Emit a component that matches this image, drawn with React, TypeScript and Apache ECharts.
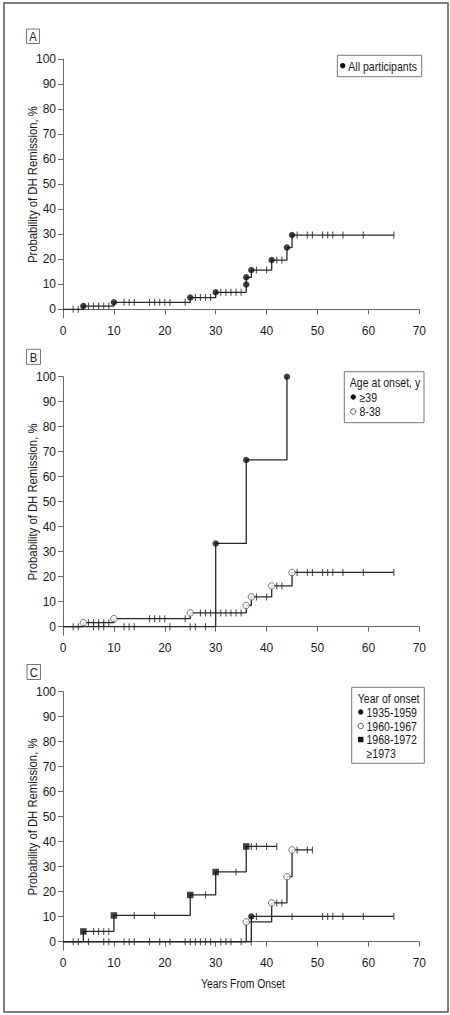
import React, { useEffect, useRef } from "react";
import * as echarts from "echarts";

// ---------- Data ----------
// Panel A: all participants
const allEventTimes = [4, 10, 25, 30, 36, 36, 37, 41, 44, 45];
const allEventProb = [1.3, 2.8, 4.7, 6.8, 9.9, 12.8, 15.7, 19.7, 24.7, 29.7];
const allCensorTimes = [2, 3, 5, 6, 7, 8, 9, 12, 13, 14, 17, 18, 19, 20, 21, 24, 26, 27, 28, 29, 31, 32, 33, 34, 35, 38, 40, 42, 43, 46, 48, 49, 51, 52, 53, 55, 59, 65];
const allEndTime = 65;

// Panel B: age at onset
const age39EventTimes = [30, 36, 44];
const age39EventProb = [33.3, 66.7, 100];
const age39CensorTimes = [2, 3, 6, 7, 8, 12, 13, 14, 21, 25, 26, 28];
const age39EndTime = 44;

const age838EventTimes = [4, 10, 25, 36, 37, 41, 45];
const age838EventProb = [1.6, 3.2, 5.5, 8.5, 11.9, 16.3, 21.7];
const age838CensorTimes = [5, 6, 7, 8, 9, 17, 18, 19, 20, 24, 27, 28, 29, 31, 32, 33, 34, 35, 38, 40, 42, 43, 46, 48, 49, 51, 52, 53, 55, 59, 65];
const age838EndTime = 65;

// Panel C: year of onset
const y1935EventTimes = [37];
const y1935EventProb = [10.1];
const y1935CensorTimes = [38, 45, 51, 52, 53, 55, 59, 65];
const y1935EndTime = 65;

const y1960EventTimes = [36, 41, 44, 45];
const y1960EventProb = [7.9, 15.5, 26.0, 36.7];
const y1960CensorTimes = [42, 43, 46, 48, 49];
const y1960EndTime = 49;

const y1968EventTimes = [4, 10, 25, 30, 36];
const y1968EventProb = [4.1, 10.5, 18.7, 27.9, 38.1];
const y1968CensorTimes = [6, 7, 8, 9, 14, 18, 28, 34, 37, 38, 40, 42];
const y1968EndTime = 42;

const y1973EventTimes: number[] = [];
const y1973EventProb: number[] = [];
const y1973CensorTimes = [2, 3, 5, 8, 9, 12, 13, 14, 17, 19, 21, 24, 25, 26, 27, 28, 29, 31, 32, 33, 35, 37];
const y1973EndTime = 37;

const xTicks = [0, 10, 20, 30, 40, 50, 60, 70];
const yTicks = [0, 10, 20, 30, 40, 50, 60, 70, 80, 90, 100];

const panelLetters = ["A", "B", "C"];
const yAxisTitle = "Probability of DH Remission, %";
const xAxisTitle = "Years From Onset";

// ---------- Styling ----------
const FONT = "'Liberation Sans', Arial, sans-serif";
const LINE = "#262626";
const AXIS = "#6a6a6a";
const TEXT = "#1a1a1a";

type Group = {
  times: number[];
  probs: number[];
  censor: number[];
  end: number;
  marker: "filled" | "open" | "square" | "none";
};

function stepValue(times: number[], probs: number[], t: number) {
  let v = 0;
  times.forEach((et, i) => {
    if (et <= t) v = probs[i];
  });
  return v;
}

function buildSeries(g: Group, idx: number) {
  const pts: number[][] = [[0, 0]];
  g.times.forEach((t, i) => pts.push([t, g.probs[i]]));
  pts.push([g.end, g.probs.length ? g.probs[g.probs.length - 1] : 0]);
  const out: any[] = [
    {
      type: "line",
      xAxisIndex: idx,
      yAxisIndex: idx,
      step: "end",
      data: pts,
      symbol: "none",
      lineStyle: { color: LINE, width: 1.3 },
      z: 2,
    },
    {
      type: "scatter",
      xAxisIndex: idx,
      yAxisIndex: idx,
      symbol: "rect",
      symbolSize: [1.1, 7],
      itemStyle: { color: LINE },
      data: g.censor.map((t) => [t, stepValue(g.times, g.probs, t)]),
      z: 3,
    },
  ];
  if (g.marker !== "none") {
    const itemStyle =
      g.marker === "open"
        ? { color: "#ffffff", borderColor: "#555", borderWidth: 1 }
        : { color: "#111" };
    out.push({
      type: "scatter",
      xAxisIndex: idx,
      yAxisIndex: idx,
      symbol: g.marker === "square" ? "rect" : "circle",
      symbolSize: 6.5,
      itemStyle,
      data: g.times.map((t, i) => [t, g.probs[i]]),
      z: 4,
    });
  }
  return out;
}

const panels: Group[][] = [
  [{ times: allEventTimes, probs: allEventProb, censor: allCensorTimes, end: allEndTime, marker: "filled" }],
  [
    { times: age838EventTimes, probs: age838EventProb, censor: age838CensorTimes, end: age838EndTime, marker: "open" },
    { times: age39EventTimes, probs: age39EventProb, censor: age39CensorTimes, end: age39EndTime, marker: "filled" },
  ],
  [
    { times: y1973EventTimes, probs: y1973EventProb, censor: y1973CensorTimes, end: y1973EndTime, marker: "none" },
    { times: y1935EventTimes, probs: y1935EventProb, censor: y1935CensorTimes, end: y1935EndTime, marker: "filled" },
    { times: y1960EventTimes, probs: y1960EventProb, censor: y1960CensorTimes, end: y1960EndTime, marker: "open" },
    { times: y1968EventTimes, probs: y1968EventProb, censor: y1968CensorTimes, end: y1968EndTime, marker: "square" },
  ],
];

const gridTops = [59.3, 376.7, 691.7];
const GRID_LEFT = 63;
const GRID_W = 356.3;
const GRID_H = 258.5;

function legendText(x: number, y: number, text: string) {
  return {
    type: "text",
    x,
    y,
    scaleX: 0.88,
    style: { text, font: `12px ${FONT}`, fill: TEXT, verticalAlign: "middle", align: "left" },
  };
}
function legendDot(x: number, y: number, kind: "filled" | "open" | "square") {
  if (kind === "square") {
    return { type: "rect", shape: { x: x - 2.7, y: y - 2.7, width: 5.4, height: 5.4 }, style: { fill: "#111" } };
  }
  return {
    type: "circle",
    shape: { cx: x, cy: y, r: 2.7 },
    style: kind === "open" ? { fill: "#fff", stroke: "#555", lineWidth: 1 } : { fill: "#111" },
  };
}
function box(x: number, y: number, w: number, h: number) {
  return { type: "rect", shape: { x, y, width: w, height: h }, style: { fill: "none", stroke: "#777", lineWidth: 1 } };
}

export default function App() {
  const ref = useRef<HTMLDivElement>(null);
  useEffect(() => {
    if (!ref.current) return;
    const chart = echarts.init(ref.current, undefined, { renderer: "svg" });

    const grid = gridTops.map((top) => ({ left: GRID_LEFT, top, width: GRID_W, height: GRID_H }));
    const xAxis = gridTops.map((_, i) => ({
      type: "value",
      gridIndex: i,
      min: 0,
      max: 70,
      interval: 10,
      axisLine: { lineStyle: { color: AXIS, width: 1 } },
      axisTick: { show: true, length: 5, lineStyle: { color: AXIS } },
      axisLabel: { color: TEXT, fontSize: 12, fontFamily: FONT, margin: 7, customValues: xTicks },
      splitLine: { show: false },
    }));
    const yAxis = gridTops.map((_, i) => ({
      type: "value",
      gridIndex: i,
      min: -3.4,
      max: 100,
      axisLine: { show: true, lineStyle: { color: AXIS, width: 1 } },
      axisTick: { show: true, length: 5, lineStyle: { color: AXIS }, customValues: yTicks },
      axisLabel: { color: TEXT, fontSize: 12, fontFamily: FONT, margin: 7, customValues: yTicks },
      splitLine: { show: false },
    }));

    const series: any[] = [];
    panels.forEach((groups, i) => groups.forEach((g) => series.push(...buildSeries(g, i))));

    const labelBoxes = [
      [26.5, 29, 13, 14.5],
      [26.5, 349.3, 14, 15],
      [27, 664.5, 13.5, 15],
    ];
    const graphic: any[] = [
      { type: "rect", shape: { x: 4, y: 3, width: 444, height: 1009 }, style: { fill: "none", stroke: "#555", lineWidth: 1.5 } },
    ];
    labelBoxes.forEach(([x, y, w, h], i) => {
      graphic.push(box(x, y, w, h));
      graphic.push({
        type: "text",
        x: x + w / 2,
        y: y + h / 2 + 0.5,
        scaleX: 0.9,
        style: { text: panelLetters[i], font: `12.5px ${FONT}`, fill: TEXT, align: "center", verticalAlign: "middle" },
      });
    });
    // Y axis titles (rotated)
    gridTops.forEach((top) => {
      graphic.push({
        type: "text",
        x: 32.5,
        y: top + 125.3,
        rotation: Math.PI / 2,
        scaleX: 0.87,
        style: { text: yAxisTitle, font: `13px ${FONT}`, fill: TEXT, align: "center", verticalAlign: "middle" },
      });
    });
    // X axis title (panel C)
    graphic.push({
      type: "text",
      x: 243,
      y: 983.5,
      scaleX: 0.77,
      style: { text: xAxisTitle, font: `13.5px ${FONT}`, fill: TEXT, align: "center", verticalAlign: "middle" },
    });
    // Legend A
    graphic.push(box(337.3, 55.3, 84.4, 21.4));
    graphic.push(legendDot(342.7, 65.7, "filled"));
    graphic.push(legendText(348.3, 66.3, "All participants"));
    // Legend B
    graphic.push(box(344.3, 371.7, 79.7, 51));
    graphic.push(legendText(349.8, 383, "Age at onset, y"));
    graphic.push(legendDot(353.3, 397, "filled"));
    graphic.push(legendText(359.5, 397.5, "≥39"));
    graphic.push(legendDot(353.3, 411.5, "open"));
    graphic.push(legendText(359.5, 412, "8-38"));
    // Legend C
    graphic.push(box(351.7, 687.3, 72.6, 76));
    graphic.push(legendText(357.7, 698.8, "Year of onset"));
    graphic.push(legendDot(360.7, 712, "filled"));
    graphic.push(legendText(366.5, 712.3, "1935-1959"));
    graphic.push(legendDot(360.7, 726, "open"));
    graphic.push(legendText(366.5, 726.3, "1960-1967"));
    graphic.push(legendDot(360.7, 739.5, "square"));
    graphic.push(legendText(366.5, 739.8, "1968-1972"));
    graphic.push(legendText(366.5, 753.3, "≥1973"));

    chart.setOption({
      animation: false,
      backgroundColor: "#ffffff",
      textStyle: { fontFamily: FONT },
      grid,
      xAxis,
      yAxis,
      series,
      graphic,
    });
    return () => chart.dispose();
  }, []);
  return (
    <div
      ref={ref}
      style={{ position: "absolute", left: 0, top: 0, width: 450, height: 1015, background: "#fff" }}
    />
  );
}
